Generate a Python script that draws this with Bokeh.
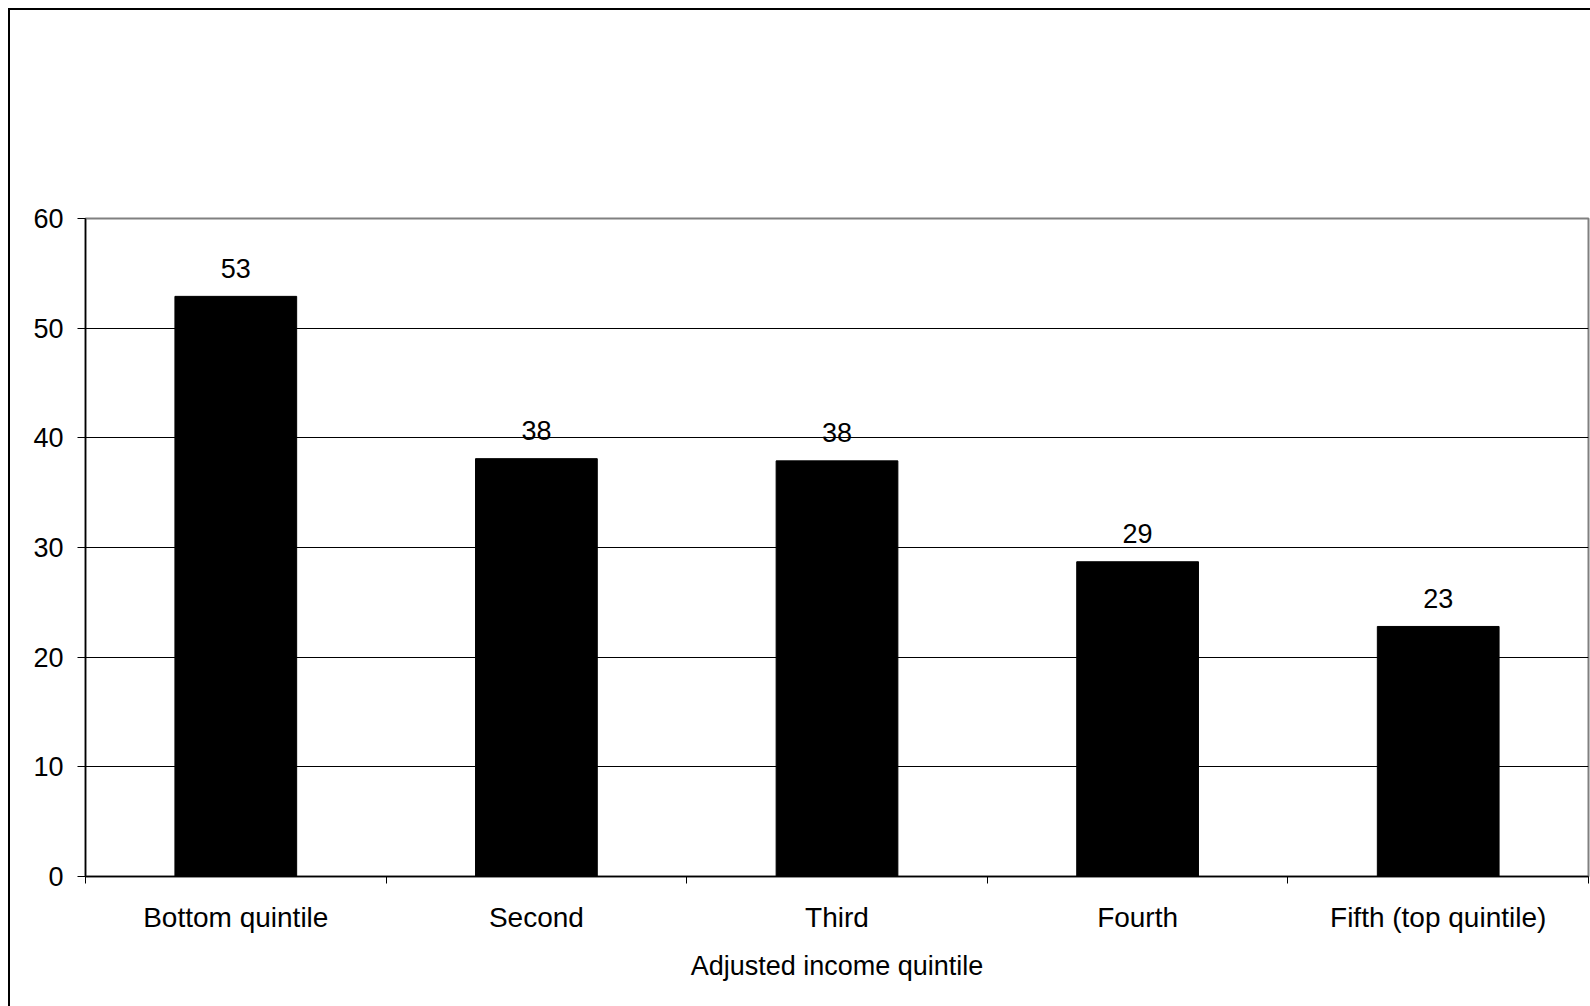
from bokeh.plotting import figure
from bokeh.models import FixedTicker, ColumnDataSource, Range1d
from bokeh.core.properties import value
from bokeh.embed import file_html
from bokeh.resources import INLINE

categories = ["Bottom quintile", "Second", "Third", "Fourth", "Fifth (top quintile)"]
values = [52.9, 38.1, 37.9, 28.7, 22.8]
labels = ["53", "38", "38", "29", "23"]
y_ticks = [0, 10, 20, 30, 40, 50, 60]
x_axis_title = "Adjusted income quintile"

FONT = "Liberation Sans"
n = len(categories)
xs = [i + 0.5 for i in range(n)]

src = ColumnDataSource(dict(x=xs, top=values, label=labels, cat=categories))

p = figure(width=1582, height=998, x_range=Range1d(0, n), y_range=Range1d(0, 60),
           output_backend="svg", toolbar_location=None,
           min_border_left=75, min_border_top=208, min_border_right=4, min_border_bottom=132)
p.margin = (8, 0, 0, 8)
p.styles = {"border-left": "2px solid black", "border-top": "2px solid black"}
p.outline_line_color = "#808080"
p.outline_line_width = 2
p.background_fill_color = "white"
p.border_fill_color = "white"

p.vbar(x="x", top="top", bottom=0, width=0.405, source=src,
       fill_color="black", line_color="black")
p.text(x="x", y="top", text="label", source=src, text_align="center",
       text_baseline="alphabetic", y_offset=-28, text_font=value(FONT),
       text_font_size="27px", text_color="black")

# x axis
p.xaxis.ticker = FixedTicker(ticks=xs, minor_ticks=list(range(n + 1)))
p.xaxis.major_label_overrides = {x: c for x, c in zip(xs, categories)}
p.xaxis.major_tick_line_color = None
p.xaxis.major_tick_out = 0
p.xaxis.major_tick_in = 0
p.xaxis.minor_tick_line_color = "black"
p.xaxis.minor_tick_out = 7
p.xaxis.minor_tick_in = 0
p.xaxis.major_label_standoff = 18
p.xaxis.axis_label = x_axis_title
p.xaxis.axis_label_standoff = 15
p.xaxis.axis_label_text_font_style = "normal"

# y axis
p.yaxis.ticker = FixedTicker(ticks=y_ticks)
p.yaxis.major_tick_out = 8
p.yaxis.major_tick_in = 0
p.yaxis.minor_tick_line_color = None
p.yaxis.major_label_standoff = 14

for ax in (p.xaxis, p.yaxis):
    ax.axis_line_color = "black"
    ax.axis_line_width = 1.5
    ax.major_label_text_font = FONT
    ax.major_label_text_color = "black"
    ax.axis_label_text_font = FONT
    ax.axis_label_text_font_size = "27px"
    ax.axis_label_text_color = "black"
p.xaxis.major_label_text_font_size = "28px"
p.yaxis.major_label_text_font_size = "27px"

p.xgrid.grid_line_color = None
p.ygrid.grid_line_color = "black"
p.ygrid.grid_line_width = 1

open("out.html", "w").write(file_html(p, INLINE))
